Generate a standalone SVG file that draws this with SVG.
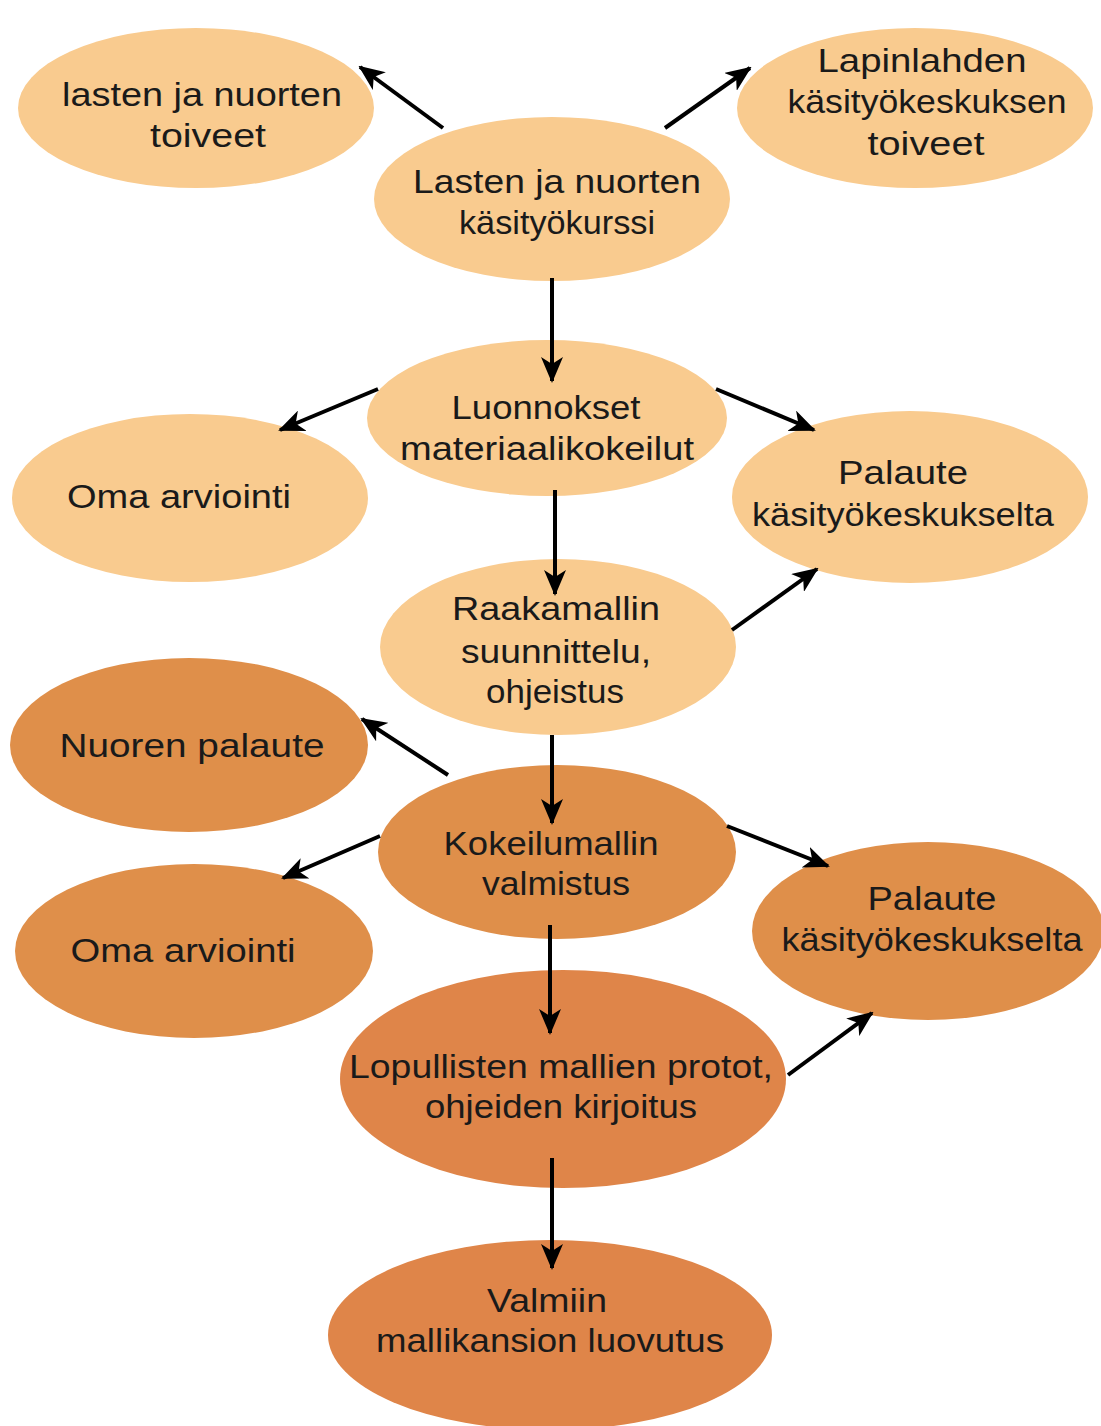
<svg xmlns="http://www.w3.org/2000/svg" width="1101" height="1426" viewBox="0 0 1101 1426">
<style>
.l{fill:#F9CB8F}
.m{fill:#DF8F4A}
.d{fill:#DF8549}
text{font-family:"Liberation Sans",Arial,sans-serif;font-size:33px;fill:#1a1a1a;text-anchor:middle}
.c{stroke:#000;stroke-width:4;fill:none;marker-end:url(#ah)}
</style>
<defs>
<marker id="ah" viewBox="0 0 26 22" refX="24" refY="11" markerWidth="26" markerHeight="22" markerUnits="userSpaceOnUse" orient="auto">
<path d="M0,0 L26,11 L0,22 L7,11 z" fill="#000"/>
</marker>
</defs>
<rect width="1101" height="1426" fill="#fff"/>
<g id="n1"><ellipse class="l" cx="196" cy="108" rx="178" ry="80"/>
<text x="202" y="106" textLength="280" lengthAdjust="spacingAndGlyphs">lasten ja nuorten</text>
<text x="208" y="147" textLength="116" lengthAdjust="spacingAndGlyphs">toiveet</text></g>
<g id="n2"><ellipse class="l" cx="915" cy="108" rx="178" ry="80"/>
<text x="922" y="72" textLength="209" lengthAdjust="spacingAndGlyphs">Lapinlahden</text>
<text x="927" y="113" textLength="279" lengthAdjust="spacingAndGlyphs">käsityökeskuksen</text>
<text x="926" y="155" textLength="117" lengthAdjust="spacingAndGlyphs">toiveet</text></g>
<g id="n3"><ellipse class="l" cx="552" cy="199" rx="178" ry="82"/>
<text x="557" y="193" textLength="288" lengthAdjust="spacingAndGlyphs">Lasten ja nuorten</text>
<text x="557" y="234" textLength="196" lengthAdjust="spacingAndGlyphs">käsityökurssi</text></g>
<g id="n4"><ellipse class="l" cx="547" cy="418" rx="180" ry="78"/>
<text x="546" y="419" textLength="189" lengthAdjust="spacingAndGlyphs">Luonnokset</text>
<text x="547" y="460" textLength="294" lengthAdjust="spacingAndGlyphs">materiaalikokeilut</text></g>
<g id="n5"><ellipse class="l" cx="190" cy="498" rx="178" ry="84"/>
<text x="179" y="508" textLength="224" lengthAdjust="spacingAndGlyphs">Oma arviointi</text></g>
<g id="n6"><ellipse class="l" cx="910" cy="497" rx="178" ry="86"/>
<text x="903" y="484" textLength="130" lengthAdjust="spacingAndGlyphs">Palaute</text>
<text x="903" y="526" textLength="302" lengthAdjust="spacingAndGlyphs">käsityökeskukselta</text></g>
<g id="n7"><ellipse class="l" cx="558" cy="647" rx="178" ry="88"/>
<text x="556" y="620" textLength="208" lengthAdjust="spacingAndGlyphs">Raakamallin</text>
<text x="556" y="663" textLength="190" lengthAdjust="spacingAndGlyphs">suunnittelu,</text>
<text x="555" y="703" textLength="138" lengthAdjust="spacingAndGlyphs">ohjeistus</text></g>
<g id="n8"><ellipse class="m" cx="189" cy="745" rx="179" ry="87"/>
<text x="192" y="757" textLength="265" lengthAdjust="spacingAndGlyphs">Nuoren palaute</text></g>
<g id="n9"><ellipse class="m" cx="557" cy="852" rx="179" ry="87"/>
<text x="551" y="855" textLength="215" lengthAdjust="spacingAndGlyphs">Kokeilumallin</text>
<text x="556" y="895" textLength="148" lengthAdjust="spacingAndGlyphs">valmistus</text></g>
<g id="n10"><ellipse class="m" cx="194" cy="951" rx="179" ry="87"/>
<text x="183" y="962" textLength="225" lengthAdjust="spacingAndGlyphs">Oma arviointi</text></g>
<g id="n11"><ellipse class="m" cx="928" cy="931" rx="176" ry="89"/>
<text x="932" y="910" textLength="129" lengthAdjust="spacingAndGlyphs">Palaute</text>
<text x="932" y="951" textLength="301" lengthAdjust="spacingAndGlyphs">käsityökeskukselta</text></g>
<g id="n12"><ellipse class="d" cx="563" cy="1079" rx="223" ry="109"/>
<text x="561" y="1078" textLength="424" lengthAdjust="spacingAndGlyphs">Lopullisten mallien protot,</text>
<text x="561" y="1118" textLength="272" lengthAdjust="spacingAndGlyphs">ohjeiden kirjoitus</text></g>
<g id="n13"><ellipse class="d" cx="550" cy="1335" rx="222" ry="95"/>
<text x="547" y="1312" textLength="120" lengthAdjust="spacingAndGlyphs">Valmiin</text>
<text x="550" y="1352" textLength="348" lengthAdjust="spacingAndGlyphs">mallikansion luovutus</text></g>
<g id="connectors">
<line class="c" x1="443" y1="128" x2="360" y2="67"/>
<line class="c" x1="665" y1="128" x2="750" y2="68"/>
<line class="c" x1="552" y1="278" x2="552" y2="381"/>
<line class="c" x1="378" y1="389" x2="280" y2="430"/>
<line class="c" x1="716" y1="389" x2="814" y2="430"/>
<line class="c" x1="555" y1="490" x2="555" y2="594"/>
<line class="c" x1="732" y1="630" x2="817" y2="569"/>
<line class="c" x1="552" y1="735" x2="552" y2="823"/>
<line class="c" x1="448" y1="775" x2="362" y2="719"/>
<line class="c" x1="380" y1="836" x2="283" y2="878"/>
<line class="c" x1="727" y1="826" x2="828" y2="866"/>
<line class="c" x1="550" y1="925" x2="550" y2="1033"/>
<line class="c" x1="788" y1="1075" x2="872" y2="1013"/>
<line class="c" x1="552" y1="1158" x2="552" y2="1268"/>
</g>
</svg>
